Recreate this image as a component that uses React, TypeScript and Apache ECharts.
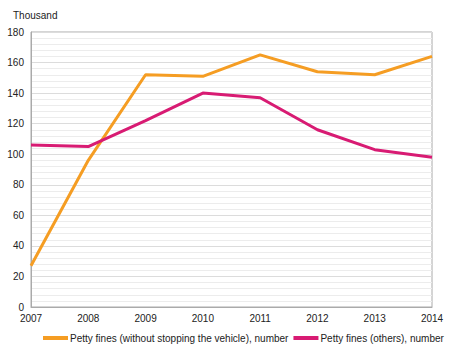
import React, { useEffect, useRef } from "react";
import * as echarts from "echarts";

const years = ["2007", "2008", "2009", "2010", "2011", "2012", "2013", "2014"];
const withoutStopping = [27, 96, 152, 151, 165, 154, 152, 164];
const others = [106, 105, 122, 140, 137, 116, 103, 98];
const seriesNames = [
  "Petty fines (without stopping the vehicle), number",
  "Petty fines (others), number",
];

export default function App() {
  const ref = useRef<HTMLDivElement>(null);
  useEffect(() => {
    const chart = echarts.init(ref.current!, null, { renderer: "svg" });
    const font = "Liberation Sans, Arial, sans-serif";
    chart.setOption({
      animation: false,
      textStyle: { fontFamily: font },
      title: {
        text: "Thousand",
        left: 8,
        top: 5,
        textStyle: { fontSize: 10, fontWeight: "normal", color: "#222", fontFamily: font },
      },
      grid: { left: 31, right: 18, top: 32, bottom: 50, show: true, borderColor: "#aaa", borderWidth: 1 },
      legend: {
        bottom: 9,
        left: 38,
        icon: "rect",
        itemWidth: 25,
        itemHeight: 4,
        itemGap: 5,
        textStyle: { fontSize: 10, color: "#222", fontFamily: font, padding: [0, 0, 0, -3] },
        data: seriesNames,
      },
      xAxis: {
        type: "category",
        data: years,
        boundaryGap: false,
        axisLine: { lineStyle: { color: "#aaa" } },
        axisTick: { show: false },
        axisLabel: { fontSize: 10, color: "#222", margin: 6 },
        splitLine: { show: false },
      },
      yAxis: {
        type: "value",
        min: 0,
        max: 180,
        interval: 20,
        axisLine: { show: true, lineStyle: { color: "#aaa" } },
        axisTick: { show: false },
        axisLabel: { fontSize: 10, color: "#222", margin: 7 },
        splitLine: { lineStyle: { color: "#dcdcdc" } },
        minorTick: { show: false, splitNumber: 5 },
        minorSplitLine: { show: true, lineStyle: { color: "#ececec" } },
      },
      series: [
        {
          name: seriesNames[0],
          type: "line",
          data: withoutStopping,
          symbol: "none",
          lineStyle: { color: "#F59D23", width: 3 },
          itemStyle: { color: "#F59D23" },
        },
        {
          name: seriesNames[1],
          type: "line",
          data: others,
          symbol: "none",
          lineStyle: { color: "#D81B73", width: 3 },
          itemStyle: { color: "#D81B73" },
        },
      ],
    });
    return () => chart.dispose();
  }, []);
  return <div ref={ref} style={{ width: 450, height: 357, position: "absolute", left: 0, top: 0 }} />;
}
